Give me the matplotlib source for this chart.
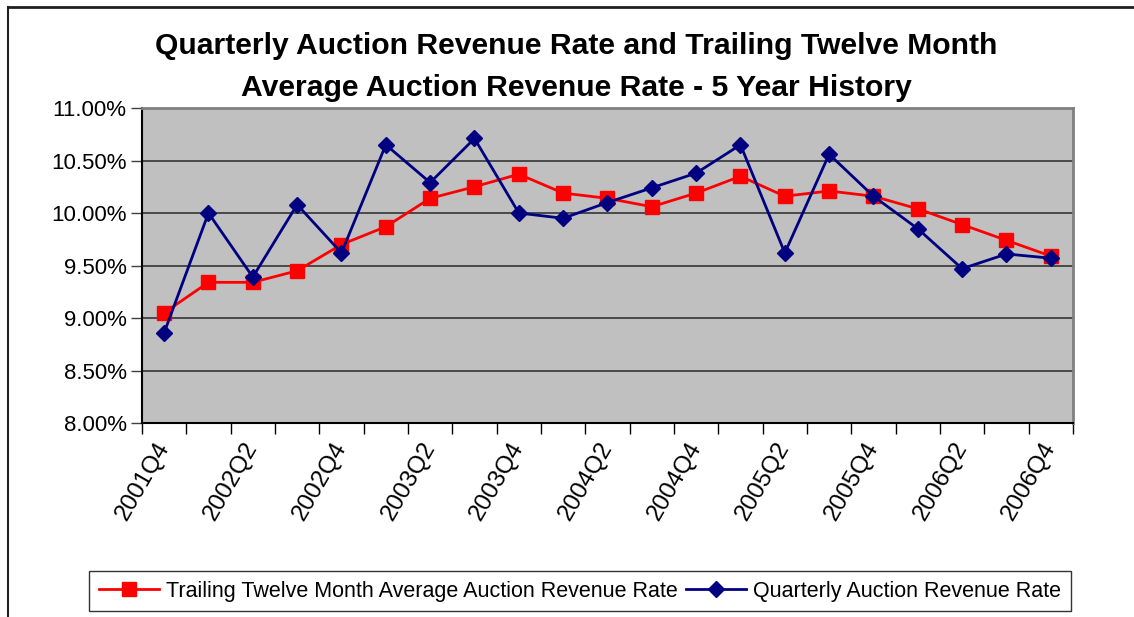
import matplotlib.pyplot as plt
from matplotlib.lines import Line2D
from matplotlib.ticker import FuncFormatter

plt.rcParams['font.family'] = ['Liberation Sans', 'DejaVu Sans']

quarters = ['2001Q4', '2002Q1', '2002Q2', '2002Q3', '2002Q4', '2003Q1', '2003Q2',
            '2003Q3', '2003Q4', '2004Q1', '2004Q2', '2004Q3', '2004Q4', '2005Q1',
            '2005Q2', '2005Q3', '2005Q4', '2006Q1', '2006Q2', '2006Q3', '2006Q4']

# trailing twelve month average (%)
ttm_rate = [9.05, 9.34, 9.34, 9.45, 9.70, 9.87, 10.14, 10.25, 10.37, 10.19, 10.14,
            10.06, 10.19, 10.35, 10.16, 10.21, 10.16, 10.04, 9.89, 9.74, 9.59]

# quarterly rate (%)
quarterly_rate = [8.86, 10.00, 9.39, 10.08, 9.62, 10.65, 10.29, 10.71, 10.00, 9.95, 10.10,
                  10.24, 10.38, 10.65, 9.62, 10.56, 10.16, 9.85, 9.47, 9.61, 9.57]

y_ticks = [8.0, 8.5, 9.0, 9.5, 10.0, 10.5, 11.0]

fig = plt.figure(figsize=(11.34, 6.17), dpi=100)
ax = fig.add_axes([0.1252, 0.3144, 0.821, 0.5105])

x = list(range(len(quarters)))
ax.plot(x, ttm_rate, color='#FF0000', lw=2, marker='s', markersize=10,
        label='Trailing Twelve Month Average Auction Revenue Rate', zorder=3)
ax.plot(x, quarterly_rate, color='#000080', lw=2, marker='D', markersize=8,
        label='Quarterly Auction Revenue Rate', zorder=4)

ax.set_facecolor('#C0C0C0')
ax.set_xlim(-0.5, len(quarters) - 0.5)
ax.set_ylim(8.0, 11.0)

# y axis
ax.set_yticks(y_ticks)
ax.yaxis.set_major_formatter(FuncFormatter(lambda v, p: '%.2f%%' % v))
ax.tick_params(axis='y', length=8, width=1, colors='#404040', labelcolor='black',
               labelsize=16, pad=3)
ax.grid(axis='y', color='#404040', lw=1.3, zorder=1)
ax.set_axisbelow(True)

# x axis - labels every other quarter, ticks between categories
ax.set_xticks(x[::2])
ax.set_xticklabels(quarters[::2], rotation=60, ha='right', va='center',
                   rotation_mode='anchor', fontsize=17.5)
ax.set_xticks([i - 0.5 for i in range(len(quarters) + 1)], minor=True)
ax.tick_params(axis='x', which='major', length=0, pad=15)
ax.tick_params(axis='x', which='minor', length=8, width=1, color='black')

ax.spines['left'].set_color('black')
ax.spines['bottom'].set_color('black')
ax.spines['left'].set_linewidth(1.5)
ax.spines['bottom'].set_linewidth(1.5)
ax.spines['top'].set_color('#808080')
ax.spines['right'].set_color('#808080')
ax.spines['top'].set_linewidth(2)
ax.spines['right'].set_linewidth(2)

# title in two lines
fig.text(0.508, 1 - 46 / 617, 'Quarterly Auction Revenue Rate and Trailing Twelve Month',
         ha='center', va='center', fontsize=21.7, fontweight='bold')
fig.text(0.508, 1 - 88 / 617, 'Average Auction Revenue Rate - 5 Year History',
         ha='center', va='center', fontsize=21.7, fontweight='bold')

# legend
leg = fig.legend(loc='center', bbox_to_anchor=(580 / 1134, 1 - 591 / 617), ncol=2,
                 fontsize=15.5, fancybox=False, edgecolor='black', handlelength=2.8,
                 columnspacing=0.4, handletextpad=0.3, borderpad=0.45)
leg.get_frame().set_linewidth(1)

# outer chart frame (top and left edges)
fig.add_artist(Line2D([8 / 1134, 1], [1 - 7 / 617, 1 - 7 / 617], color='#202020', lw=2))
fig.add_artist(Line2D([8 / 1134, 8 / 1134], [0, 1 - 7 / 617], color='#202020', lw=1.5))

plt.savefig('out.png', dpi=100)
